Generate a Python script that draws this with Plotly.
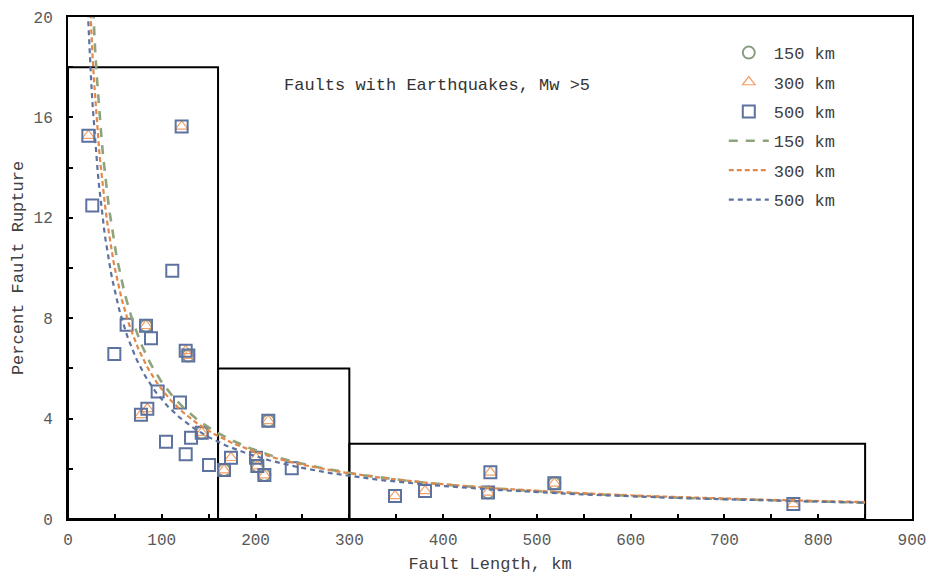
import numpy as np
import plotly.graph_objects as go

# ---- data ----
# 150 km dataset (circles)
x150 = [83.2, 128.3, 142.6, 213.6, 166.4, 201.9, 209.4, 447.9, 518.6]
y150 = [7.70, 6.51, 3.44, 3.91, 1.95, 2.11, 1.75, 1.06, 1.42]
# 300 km dataset (triangles)
x300 = [21.7, 121.2, 83.2, 125.5, 128.3, 84.6, 77.8, 142.6, 213.6, 173.8, 166.4,
        200.5, 201.9, 209.4, 348.7, 380.7, 450.4, 447.9, 518.6, 773.5]
y300 = [15.27, 15.64, 7.70, 6.70, 6.51, 4.39, 4.15, 3.44, 3.91, 2.44, 1.95,
        2.44, 2.11, 1.75, 0.92, 1.12, 1.86, 1.06, 1.42, 0.60]
# 500 km dataset (squares)
x500 = x300 + [25.9, 111.2, 62.5, 88.5, 49.4, 95.6, 119.4, 104.5, 131.2, 125.5, 150.4, 238.6]
y500 = y300 + [12.49, 9.89, 7.74, 7.20, 6.57, 5.08, 4.64, 3.08, 3.24, 2.58, 2.15, 2.02]

# power-law trendline coefficients  y = a * x^b
fit_names = ["150 km", "300 km", "500 km"]
fit_a = [528.0, 410.0, 343.0]
fit_b = [-0.993, -0.95, -0.929]
fit_xmin, fit_xmax = 15, 850

# bins (fault-length classes) and their heights
bin_edges = [0, 160, 300, 850]
bin_heights = [18, 6, 3]

x_ticks = [0, 100, 200, 300, 400, 500, 600, 700, 800, 900]
y_ticks = [0, 4, 8, 12, 16, 20]

FONT = "Courier New, Liberation Mono, monospace"
C_GREEN = "#8ea47c"
C_ORANGE = "#e2884a"
C_BLUE = "#5d729f"
C_TRI = "#f2a066"
C_CIRC = "#8a9a7c"

fig = go.Figure()

fig.add_trace(go.Scatter(x=x150, y=y150, mode="markers", name="150 km",
                         legendgroup="a",
                         marker=dict(symbol="circle-open", size=12, color=C_CIRC,
                                     line=dict(width=2, color=C_CIRC))))
fig.add_trace(go.Scatter(x=x300, y=y300, mode="markers", name="300 km",
                         legendgroup="b",
                         marker=dict(symbol="triangle-up-open", size=11, color=C_TRI,
                                     line=dict(width=1.2, color=C_TRI))))
fig.add_trace(go.Scatter(x=x500, y=y500, mode="markers", name="500 km",
                         legendgroup="c",
                         marker=dict(symbol="square-open", size=12, color=C_BLUE,
                                     line=dict(width=2, color=C_BLUE))))

xs = np.linspace(fit_xmin, fit_xmax, 600)
styles = [(C_GREEN, "9px,8px", 2.6), (C_ORANGE, "5px,3px", 2.2), (C_BLUE, "5px,4px", 2.2)]
for i, (nm, a, b) in enumerate(zip(fit_names, fit_a, fit_b)):
    col, dash, w = styles[i]
    fig.add_trace(go.Scatter(x=xs, y=a * xs ** b, mode="lines", name=nm,
                             legendgroup="d%d" % i,
                             line=dict(color=col, dash=dash, width=w)))

for i, h in enumerate(bin_heights):
    fig.add_shape(type="rect", xref="x", yref="y",
                  x0=bin_edges[i], x1=bin_edges[i + 1], y0=0, y1=h,
                  line=dict(color="black", width=2), layer="below")

fig.add_annotation(x=393, y=17.26, xref="x", yref="y",
                   text="Faults with Earthquakes, Mw >5", showarrow=False,
                   font=dict(family=FONT, size=17, color="#333333"))

fig.update_layout(
    width=928, height=575,
    margin=dict(l=68, r=16, t=17, b=56, autoexpand=False),
    paper_bgcolor="white", plot_bgcolor="white",
    font=dict(family=FONT, size=17, color="#404040"),
    legend=dict(x=0.777, y=0.964, xanchor="left", yanchor="top",
                traceorder="grouped", tracegroupgap=4.3, itemwidth=40,
                font=dict(family=FONT, size=17, color="#404040"),
                bgcolor="rgba(0,0,0,0)"),
)
fig.update_xaxes(range=[0, 900], tickvals=x_ticks, showgrid=False, zeroline=False,
                 automargin=False,
                 showline=True, linecolor="black", linewidth=2, mirror=True,
                 ticks="inside", ticklen=5, tickwidth=1.5, tickcolor="black",
                 ticklabelstandoff=5,
                 minor=dict(dtick=50, ticks="inside", ticklen=5, tickwidth=1.5, tickcolor="black"),
                 tickfont=dict(family=FONT, size=16, color="#595959"),
                 title=dict(text="Fault Length, km", font=dict(family=FONT, size=17, color="#404040"),
                            standoff=8))
fig.update_yaxes(range=[0, 20], tickvals=y_ticks, showgrid=False, zeroline=False,
                 automargin=False,
                 showline=True, linecolor="black", linewidth=2, mirror=True,
                 ticks="inside", ticklen=5, tickwidth=1.5, tickcolor="black",
                 ticklabelstandoff=10,
                 minor=dict(dtick=2, ticks="inside", ticklen=5, tickwidth=1.5, tickcolor="black"),
                 tickfont=dict(family=FONT, size=16, color="#595959"),
                 title=dict(text="Percent Fault Rupture", font=dict(family=FONT, size=17, color="#404040"),
                            standoff=6))

fig.write_html("out.html", config={"displayModeBar": False},
               post_script="document.body.style.margin='0';document.body.style.overflow='hidden';")
